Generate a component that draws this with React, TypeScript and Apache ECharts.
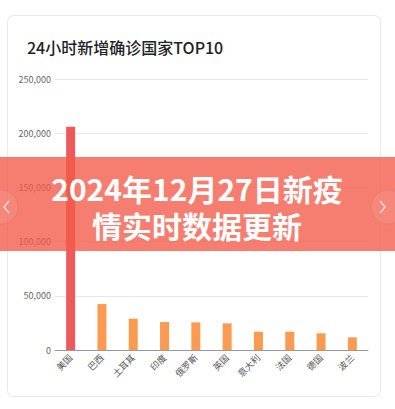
import React, { useEffect, useRef } from "react";
import * as echarts from "echarts";

const chartTitle = "24小时新增确诊国家TOP10";
const bannerLines = ["2024年12月27日新疫", "情实时数据更新"];
const countries = ["美国", "巴西", "土耳其", "印度", "俄罗斯", "英国", "意大利", "法国", "德国", "波兰"];
const newCases = [206000, 42400, 28900, 25800, 25500, 24600, 16900, 16900, 15400, 11700];
const yTicks = [0, 50000, 100000, 150000, 200000, 250000];

export default function App() {
  const ref = useRef<HTMLDivElement>(null);
  useEffect(() => {
    if (!ref.current) return;
    const chart = echarts.init(ref.current, null, { renderer: "svg" });
    const font = '"Noto Sans CJK SC", "Noto Sans", sans-serif';
    chart.setOption({
      animation: false,
      backgroundColor: "#ffffff",
      textStyle: { fontFamily: font },
      title: {
        text: chartTitle,
        left: 22,
        top: 34,
        textStyle: { fontSize: 16, fontWeight: 500, color: "#222", fontFamily: font },
      },
      grid: { left: 55, right: 27, top: 79, bottom: 59, containLabel: false },
      xAxis: {
        type: "category",
        data: countries,
        axisTick: { show: false },
        axisLine: { lineStyle: { color: "#999", width: 1 } },
        axisLabel: { rotate: 45, fontSize: 9, color: "#555", margin: 6, interval: 0 },
      },
      yAxis: {
        type: "value",
        min: yTicks[0],
        max: yTicks[yTicks.length - 1],
        interval: 50000,
        axisLine: { show: false },
        axisTick: { show: false },
        axisLabel: {
          fontSize: 9,
          color: "#666",
          margin: 4,
          formatter: (v: number) => v.toLocaleString("en-US"),
        },
        splitLine: { lineStyle: { color: "#e8e8e8" } },
      },
      series: [
        {
          type: "bar",
          data: newCases.map((v, i) => ({
            value: v,
            itemStyle: { color: i === 0 ? "#ee5a5c" : "#fb9b52" },
          })),
          barWidth: 9,
          z: 2,
        },
      ],
      graphic: [
        {
          type: "rect",
          shape: { x: 7.5, y: 15.5, width: 373, height: 381, r: 6 },
          style: { fill: "none", stroke: "#e9e9e9", lineWidth: 1 },
          z: 1,
          silent: true,
        },
        {
          type: "rect",
          shape: { x: 0, y: 157, width: 395, height: 94 },
          style: { fill: "rgba(242,90,72,0.78)" },
          z: 100,
          silent: true,
        },
        {
          type: "circle",
          shape: { cx: 1, cy: 207, r: 17 },
          style: { fill: "rgba(255,255,255,0.08)", stroke: "rgba(220,120,110,0.6)", lineWidth: 1 },
          z: 101,
        },
        {
          type: "polyline",
          shape: { points: [[9, 201], [4, 207], [9, 213]] },
          style: { stroke: "rgba(255,255,255,0.75)", lineWidth: 1.3, fill: "none" },
          z: 102,
        },
        {
          type: "circle",
          shape: { cx: 388, cy: 207, r: 17 },
          style: { fill: "rgba(255,255,255,0.08)", stroke: "rgba(220,120,110,0.6)", lineWidth: 1 },
          z: 101,
        },
        {
          type: "polyline",
          shape: { points: [[380, 201], [385, 207], [380, 213]] },
          style: { stroke: "rgba(255,255,255,0.75)", lineWidth: 1.3, fill: "none" },
          z: 102,
        },
        {
          type: "text",
          x: 197,
          y: 206.5,
          style: {
            text: bannerLines.join("\n"),
            fill: "#ffffff",
            font: `bold 30px ${font}`,
            lineHeight: 37,
            align: "center",
            verticalAlign: "middle",
          },
          z: 103,
        },
      ],
    });
    return () => chart.dispose();
  }, []);
  return (
    <div
      ref={ref}
      style={{ position: "absolute", left: 0, top: 0, width: 395, height: 409 }}
    />
  );
}
